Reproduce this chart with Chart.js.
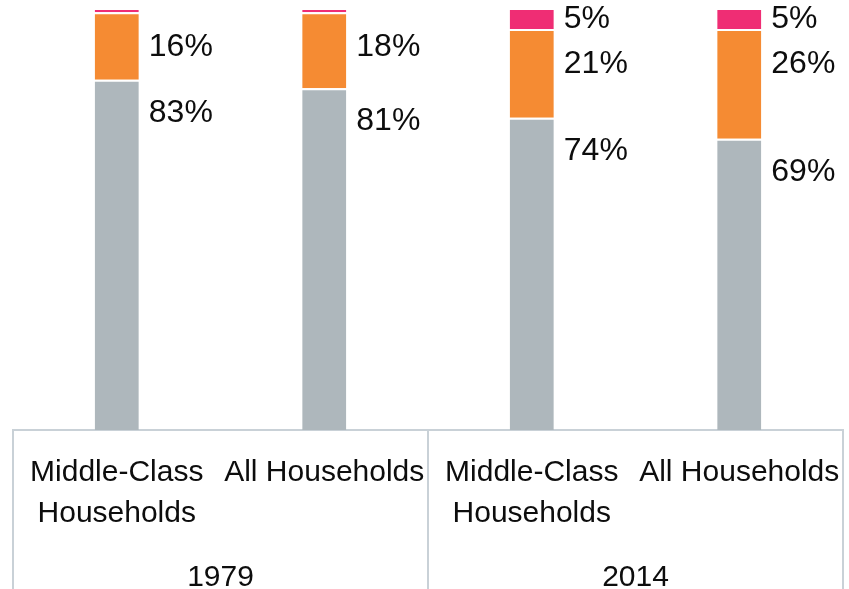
<!DOCTYPE html>
<html>
<head>
<meta charset="utf-8">
<script src="https://cdn.jsdelivr.net/npm/chart.js@4.4.1/dist/chart.umd.min.js"></script>
<style>
  html, body { margin: 0; padding: 0; background: #fff; }
  #wrap { width: 849px; height: 589px; }
</style>
</head>
<body>
<div id="wrap"><canvas id="households"></canvas></div>
<script>
const categories = [['Middle-Class', 'Households'], 'All Households', ['Middle-Class', 'Households'], 'All Households'];
const years = ['1979', '2014'];
const lowerShare = [83, 81, 74, 69];
const middleShare = [16, 18, 21, 26];
const upperShare = [1, 1, 5, 5];

const FONT = '"Liberation Sans", Arial, sans-serif';
const lineColor = '#c9d1d7';

// labels to the right of each segment
const segmentLabels = {
    id: 'segmentLabels',
    afterDatasetsDraw(chart) {
        const c = chart.ctx;
        c.save();
        c.font = '32px ' + FONT;
        c.fillStyle = '#0d0d0d';
        c.textAlign = 'left';
        c.textBaseline = 'middle';
        chart.data.datasets.forEach((ds, di) => {
            const meta = chart.getDatasetMeta(di);
            meta.data.forEach((bar, i) => {
                const v = ds.data[i];
                if (v < 2) return;
                const top = Math.min(bar.y, bar.base);
                const bottom = Math.max(bar.y, bar.base);
                let y;
                if (di === 2) y = (top + bottom) / 2 + 1;
                else if (di === 1) y = top + 35;
                else y = top + 33;
                c.fillText(v + '%', bar.x + bar.width / 2 + 10, y);
            });
        });
        c.restore();
    }
};

// year groups under the category labels
const yearGroups = {
    id: 'yearGroups',
    afterDraw(chart) {
        const c = chart.ctx;
        const x = chart.scales.x;
        const half = (x.getPixelForValue(1) - x.getPixelForValue(0)) / 2;
        const bounds = [x.left, x.getPixelForValue(1) + half, x.right];
        c.save();
        c.strokeStyle = lineColor;
        c.lineWidth = 2;
        bounds.forEach(b => {
            c.beginPath();
            c.moveTo(b, chart.chartArea.bottom);
            c.lineTo(b, chart.height);
            c.stroke();
        });
        c.font = '30px ' + FONT;
        c.fillStyle = '#0d0d0d';
        c.textAlign = 'center';
        c.textBaseline = 'middle';
        years.forEach((yr, i) => {
            c.fillText(yr, (bounds[i] + bounds[i + 1]) / 2, chart.chartArea.bottom + 148);
        });
        c.restore();
    }
};

new Chart(document.getElementById('households'), {
    type: 'bar',
    data: {
        labels: categories,
        datasets: [
            { label: 'Lower', data: lowerShare, backgroundColor: '#aeb7bc' },
            { label: 'Middle', data: middleShare, backgroundColor: '#f58b33' },
            { label: 'Upper', data: upperShare, backgroundColor: '#ef2d74' }
        ]
    },
    options: {
        responsive: true,
        maintainAspectRatio: false,
        animation: false,
        datasets: {
            bar: {
                borderColor: '#ffffff',
                borderWidth: { top: 2 },
                borderSkipped: false,
                barPercentage: 0.425,
                categoryPercentage: 0.5
            }
        },
        layout: { padding: { left: 13, right: 6, top: 8, bottom: 0 } },
        plugins: {
            legend: { display: false },
            tooltip: { enabled: false }
        },
        scales: {
            x: {
                stacked: true,
                grid: { display: false, drawTicks: false },
                border: { display: true, color: lineColor, width: 2 },
                ticks: {
                    color: '#0d0d0d',
                    padding: 23,
                    maxRotation: 0,
                    autoSkip: false,
                    font: { family: FONT, size: 30, lineHeight: 1.34 }
                },
                afterFit(scale) {
                    scale.height = 159;
                    scale.paddingLeft = 0;
                    scale.paddingRight = 0;
                }
            },
            y: {
                stacked: true,
                display: false,
                min: 0,
                max: 100
            }
        }
    },
    plugins: [segmentLabels, yearGroups]
});
</script>
</body>
</html>
